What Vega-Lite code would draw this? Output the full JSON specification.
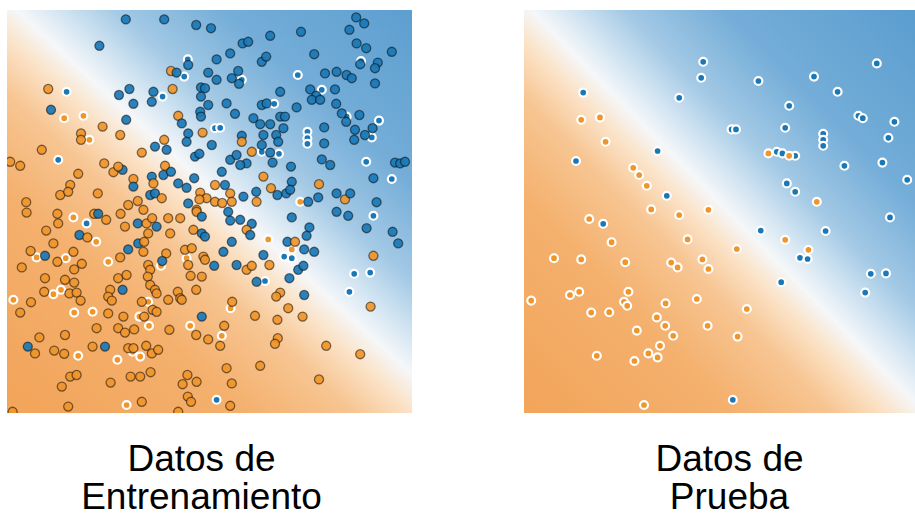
{
  "$schema": "https://vega.github.io/schema/vega-lite/v6.json",
  "padding": {"left": 7, "top": 10, "right": 0, "bottom": 0},
  "autosize": {"type": "pad"},
  "background": "white",
  "spacing": 112,
  "config": {
    "view": {"stroke": null},
    "title": {"font": "Liberation Sans", "fontSize": 37, "fontWeight": "normal", "color": "#000000", "lineHeight": 38, "anchor": "middle", "orient": "bottom", "offset": 29}
  },
  "datasets": {
    "superficie": [{"modelo": "clasificador"}],
    "entrenamiento": [
      {"x":29.7,"y":98.4,"clase":"azul","prueba":0},{"x":39.3,"y":98.4,"clase":"azul","prueba":0},{"x":47.3,"y":97.0,"clase":"azul","prueba":0},{"x":51.0,"y":96.2,"clase":"azul","prueba":0},
      {"x":23.1,"y":91.8,"clase":"azul","prueba":0},{"x":45.2,"y":88.4,"clase":"azul","prueba":1},{"x":45.3,"y":87.0,"clase":"azul","prueba":0},{"x":52.4,"y":88.4,"clase":"azul","prueba":0},
      {"x":41.0,"y":85.5,"clase":"naranja","prueba":0},{"x":42.4,"y":85.1,"clase":"azul","prueba":0},{"x":44.3,"y":84.1,"clase":"azul","prueba":1},{"x":50.3,"y":85.1,"clase":"azul","prueba":0},
      {"x":52.4,"y":83.3,"clase":"azul","prueba":0},{"x":10.3,"y":81.0,"clase":"naranja","prueba":0},{"x":14.9,"y":80.3,"clase":"azul","prueba":1},{"x":28.0,"y":79.5,"clase":"azul","prueba":0},
      {"x":30.6,"y":81.0,"clase":"azul","prueba":0},{"x":36.6,"y":80.3,"clase":"azul","prueba":0},{"x":41.4,"y":81.0,"clase":"naranja","prueba":0},{"x":38.9,"y":79.1,"clase":"azul","prueba":1},
      {"x":36.2,"y":77.8,"clase":"azul","prueba":0},{"x":31.6,"y":77.3,"clase":"azul","prueba":0},{"x":48.5,"y":81.4,"clase":"azul","prueba":0},{"x":49.5,"y":81.2,"clase":"azul","prueba":0},
      {"x":48.5,"y":79.1,"clase":"azul","prueba":0},{"x":50.3,"y":77.0,"clase":"azul","prueba":0},{"x":48.3,"y":75.3,"clase":"azul","prueba":0},{"x":48.5,"y":74.1,"clase":"azul","prueba":0},
      {"x":11.0,"y":75.8,"clase":"azul","prueba":0},{"x":14.3,"y":73.7,"clase":"naranja","prueba":1},{"x":19.1,"y":74.3,"clase":"naranja","prueba":1},{"x":29.8,"y":73.3,"clase":"azul","prueba":0},
      {"x":23.9,"y":71.6,"clase":"naranja","prueba":0},{"x":42.8,"y":74.3,"clase":"naranja","prueba":0},{"x":43.7,"y":72.4,"clase":"azul","prueba":0},{"x":18.5,"y":69.9,"clase":"naranja","prueba":0},
      {"x":18.5,"y":68.3,"clase":"naranja","prueba":0},{"x":20.6,"y":68.3,"clase":"naranja","prueba":1},{"x":28.3,"y":69.5,"clase":"naranja","prueba":0},{"x":45.3,"y":69.9,"clase":"azul","prueba":0},
      {"x":48.9,"y":70.1,"clase":"naranja","prueba":0},{"x":52.0,"y":71.2,"clase":"azul","prueba":1},{"x":8.7,"y":65.8,"clase":"naranja","prueba":0},{"x":37.0,"y":66.6,"clase":"azul","prueba":0},
      {"x":39.3,"y":68.3,"clase":"naranja","prueba":0},{"x":39.9,"y":65.8,"clase":"azul","prueba":0},{"x":33.7,"y":65.1,"clase":"naranja","prueba":0},{"x":44.9,"y":67.8,"clase":"azul","prueba":0},
      {"x":47.0,"y":64.1,"clase":"azul","prueba":0},{"x":48.1,"y":64.8,"clase":"azul","prueba":0},{"x":51.2,"y":67.0,"clase":"azul","prueba":0},{"x":12.8,"y":63.3,"clase":"azul","prueba":1},
      {"x":0.8,"y":62.8,"clase":"naranja","prueba":0},{"x":3.3,"y":61.8,"clase":"naranja","prueba":0},{"x":24.3,"y":62.4,"clase":"naranja","prueba":0},{"x":39.5,"y":61.8,"clase":"naranja","prueba":0},
      {"x":17.8,"y":59.8,"clase":"naranja","prueba":0},{"x":26.6,"y":60.2,"clase":"naranja","prueba":0},{"x":28.9,"y":60.8,"clase":"azul","prueba":0},{"x":27.8,"y":61.6,"clase":"naranja","prueba":0},
      {"x":36.2,"y":59.1,"clase":"azul","prueba":0},{"x":31.6,"y":58.5,"clase":"naranja","prueba":0},{"x":39.1,"y":59.5,"clase":"azul","prueba":0},{"x":41.0,"y":60.3,"clase":"azul","prueba":0},
      {"x":46.8,"y":58.7,"clase":"azul","prueba":0},{"x":15.8,"y":57.0,"clase":"naranja","prueba":0},{"x":13.3,"y":54.5,"clase":"naranja","prueba":0},{"x":15.3,"y":55.3,"clase":"naranja","prueba":0},
      {"x":22.7,"y":54.9,"clase":"naranja","prueba":0},{"x":31.6,"y":56.6,"clase":"azul","prueba":0},{"x":36.6,"y":57.4,"clase":"naranja","prueba":0},{"x":42.8,"y":57.4,"clase":"azul","prueba":0},
      {"x":44.9,"y":56.3,"clase":"azul","prueba":0},{"x":48.3,"y":55.1,"clase":"naranja","prueba":0},{"x":49.9,"y":53.7,"clase":"naranja","prueba":0},{"x":52.0,"y":52.8,"clase":"naranja","prueba":0},
      {"x":48.1,"y":53.4,"clase":"naranja","prueba":0},{"x":4.8,"y":52.7,"clase":"naranja","prueba":0},{"x":30.3,"y":52.0,"clase":"naranja","prueba":0},{"x":32.7,"y":53.0,"clase":"naranja","prueba":0},
      {"x":35.8,"y":54.5,"clase":"azul","prueba":0},{"x":37.0,"y":54.9,"clase":"azul","prueba":0},{"x":38.7,"y":53.7,"clase":"naranja","prueba":0},{"x":45.3,"y":52.4,"clase":"azul","prueba":0},
      {"x":47.4,"y":50.8,"clase":"naranja","prueba":0},{"x":34.1,"y":50.8,"clase":"naranja","prueba":0},
      {"x":87.3,"y":98.9,"clase":"azul","prueba":0},{"x":89.3,"y":97.4,"clase":"azul","prueba":0},{"x":85.6,"y":95.8,"clase":"azul","prueba":0},{"x":73.5,"y":95.3,"clase":"azul","prueba":0},
      {"x":65.8,"y":94.3,"clase":"azul","prueba":0},{"x":58.9,"y":92.4,"clase":"azul","prueba":0},{"x":60.3,"y":92.8,"clase":"azul","prueba":0},{"x":87.4,"y":92.4,"clase":"azul","prueba":0},
      {"x":89.8,"y":91.2,"clase":"azul","prueba":0},{"x":96.2,"y":90.3,"clase":"azul","prueba":0},{"x":76.8,"y":89.7,"clase":"azul","prueba":0},{"x":55.8,"y":89.9,"clase":"azul","prueba":0},
      {"x":63.7,"y":87.8,"clase":"azul","prueba":0},{"x":64.8,"y":89.1,"clase":"azul","prueba":0},{"x":88.5,"y":88.0,"clase":"azul","prueba":1},{"x":88.3,"y":87.2,"clase":"azul","prueba":0},
      {"x":92.7,"y":87.6,"clase":"azul","prueba":0},{"x":92.0,"y":86.2,"clase":"azul","prueba":0},{"x":56.2,"y":83.7,"clase":"azul","prueba":0},{"x":57.8,"y":85.5,"clase":"azul","prueba":0},
      {"x":58.7,"y":83.3,"clase":"azul","prueba":1},{"x":58.0,"y":82.3,"clase":"azul","prueba":0},{"x":72.7,"y":84.5,"clase":"azul","prueba":1},{"x":79.5,"y":84.9,"clase":"azul","prueba":0},
      {"x":82.4,"y":85.3,"clase":"azul","prueba":0},{"x":84.9,"y":84.5,"clase":"azul","prueba":0},{"x":86.2,"y":83.7,"clase":"azul","prueba":0},{"x":92.0,"y":82.4,"clase":"azul","prueba":0},
      {"x":68.3,"y":80.3,"clase":"azul","prueba":0},{"x":75.8,"y":80.9,"clase":"azul","prueba":0},{"x":78.7,"y":80.8,"clase":"azul","prueba":1},{"x":82.0,"y":80.9,"clase":"azul","prueba":0},
      {"x":77.3,"y":79.3,"clase":"azul","prueba":0},{"x":76.2,"y":78.3,"clase":"azul","prueba":0},{"x":78.3,"y":78.3,"clase":"azul","prueba":0},{"x":54.9,"y":77.4,"clase":"azul","prueba":0},
      {"x":63.7,"y":77.0,"clase":"azul","prueba":0},{"x":64.9,"y":77.4,"clase":"azul","prueba":0},{"x":66.8,"y":77.3,"clase":"azul","prueba":1},{"x":72.4,"y":76.4,"clase":"azul","prueba":0},
      {"x":82.3,"y":77.3,"clase":"azul","prueba":0},{"x":83.7,"y":74.9,"clase":"azul","prueba":0},{"x":84.9,"y":74.1,"clase":"azul","prueba":1},{"x":88.1,"y":74.5,"clase":"azul","prueba":0},
      {"x":93.0,"y":73.1,"clase":"azul","prueba":1},{"x":57.0,"y":74.8,"clase":"azul","prueba":0},{"x":61.6,"y":73.7,"clase":"azul","prueba":0},{"x":68.3,"y":74.1,"clase":"azul","prueba":0},
      {"x":69.5,"y":74.1,"clase":"azul","prueba":0},{"x":63.3,"y":72.2,"clase":"azul","prueba":0},{"x":65.8,"y":72.2,"clase":"azul","prueba":0},{"x":69.1,"y":71.2,"clase":"azul","prueba":0},
      {"x":84.8,"y":72.8,"clase":"azul","prueba":0},{"x":53.3,"y":71.3,"clase":"azul","prueba":1},{"x":79.3,"y":71.4,"clase":"azul","prueba":0},{"x":75.1,"y":70.3,"clase":"azul","prueba":1},
      {"x":75.1,"y":68.7,"clase":"azul","prueba":1},{"x":75.1,"y":67.3,"clase":"azul","prueba":1},{"x":87.0,"y":70.8,"clase":"azul","prueba":0},{"x":89.5,"y":69.5,"clase":"azul","prueba":0},
      {"x":91.4,"y":71.2,"clase":"azul","prueba":0},{"x":91.2,"y":68.9,"clase":"azul","prueba":1},{"x":86.8,"y":68.3,"clase":"azul","prueba":0},{"x":58.7,"y":69.3,"clase":"azul","prueba":0},
      {"x":64.1,"y":69.5,"clase":"azul","prueba":0},{"x":67.3,"y":69.5,"clase":"azul","prueba":0},{"x":58.7,"y":67.8,"clase":"naranja","prueba":0},{"x":63.7,"y":67.0,"clase":"azul","prueba":0},
      {"x":67.8,"y":67.8,"clase":"azul","prueba":0},{"x":79.3,"y":67.4,"clase":"azul","prueba":0},{"x":61.2,"y":65.3,"clase":"naranja","prueba":0},{"x":63.7,"y":65.3,"clase":"azul","prueba":1},
      {"x":65.8,"y":65.1,"clase":"azul","prueba":0},{"x":68.0,"y":64.8,"clase":"azul","prueba":1},{"x":55.8,"y":63.3,"clase":"azul","prueba":0},{"x":57.4,"y":64.5,"clase":"azul","prueba":0},
      {"x":59.9,"y":62.4,"clase":"azul","prueba":0},{"x":58.3,"y":62.0,"clase":"azul","prueba":0},{"x":66.4,"y":62.6,"clase":"azul","prueba":0},{"x":71.0,"y":61.6,"clase":"azul","prueba":0},
      {"x":78.7,"y":63.4,"clase":"azul","prueba":0},{"x":80.8,"y":62.0,"clase":"azul","prueba":0},{"x":89.8,"y":62.8,"clase":"azul","prueba":1},{"x":97.0,"y":62.6,"clase":"azul","prueba":0},
      {"x":98.3,"y":62.4,"clase":"azul","prueba":0},{"x":99.5,"y":62.8,"clase":"azul","prueba":0},{"x":53.7,"y":60.3,"clase":"azul","prueba":0},{"x":64.1,"y":59.1,"clase":"naranja","prueba":0},
      {"x":71.2,"y":57.8,"clase":"azul","prueba":0},{"x":78.0,"y":57.2,"clase":"naranja","prueba":0},{"x":91.6,"y":58.7,"clase":"azul","prueba":0},{"x":96.2,"y":58.5,"clase":"azul","prueba":1},
      {"x":52.0,"y":57.0,"clase":"naranja","prueba":0},{"x":54.5,"y":57.0,"clase":"azul","prueba":0},{"x":55.8,"y":54.9,"clase":"naranja","prueba":0},{"x":56.2,"y":52.8,"clase":"naranja","prueba":0},
      {"x":59.1,"y":54.1,"clase":"azul","prueba":0},{"x":62.3,"y":55.3,"clase":"azul","prueba":0},{"x":62.4,"y":52.8,"clase":"naranja","prueba":0},{"x":66.0,"y":56.2,"clase":"naranja","prueba":0},
      {"x":67.6,"y":54.5,"clase":"azul","prueba":0},{"x":69.8,"y":54.9,"clase":"azul","prueba":0},{"x":70.8,"y":55.8,"clase":"azul","prueba":0},{"x":73.3,"y":52.8,"clase":"naranja","prueba":1},
      {"x":75.3,"y":52.8,"clase":"azul","prueba":0},{"x":77.8,"y":53.9,"clase":"azul","prueba":0},{"x":82.4,"y":54.9,"clase":"azul","prueba":0},{"x":84.5,"y":53.4,"clase":"naranja","prueba":0},
      {"x":85.8,"y":54.9,"clase":"azul","prueba":0},{"x":92.4,"y":52.7,"clase":"azul","prueba":0},{"x":53.8,"y":52.5,"clase":"naranja","prueba":0},
      {"x":82.4,"y":50.3,"clase":"azul","prueba":0},{"x":85.3,"y":49.3,"clase":"azul","prueba":0},{"x":91.6,"y":49.3,"clase":"azul","prueba":1},{"x":89.9,"y":46.2,"clase":"azul","prueba":0},
      {"x":96.4,"y":45.3,"clase":"azul","prueba":0},{"x":97.8,"y":42.4,"clase":"azul","prueba":0},{"x":71.2,"y":48.9,"clase":"azul","prueba":0},{"x":75.6,"y":46.4,"clase":"azul","prueba":0},
      {"x":74.9,"y":44.3,"clase":"azul","prueba":0},{"x":55.3,"y":50.3,"clase":"azul","prueba":0},{"x":55.8,"y":48.1,"clase":"azul","prueba":0},{"x":58.3,"y":48.3,"clase":"azul","prueba":0},
      {"x":61.2,"y":47.3,"clase":"azul","prueba":0},{"x":59.9,"y":45.8,"clase":"naranja","prueba":0},{"x":60.8,"y":44.5,"clase":"azul","prueba":0},{"x":56.2,"y":42.8,"clase":"azul","prueba":0},
      {"x":54.1,"y":40.3,"clase":"azul","prueba":0},{"x":65.3,"y":43.4,"clase":"naranja","prueba":1},{"x":70.1,"y":42.8,"clase":"azul","prueba":0},{"x":72.0,"y":42.8,"clase":"naranja","prueba":0},
      {"x":74.3,"y":40.9,"clase":"azul","prueba":0},{"x":76.8,"y":40.3,"clase":"azul","prueba":0},{"x":71.2,"y":40.9,"clase":"naranja","prueba":1},{"x":69.3,"y":39.1,"clase":"azul","prueba":1},
      {"x":71.2,"y":38.7,"clase":"azul","prueba":1},{"x":64.1,"y":39.5,"clase":"azul","prueba":0},{"x":91.6,"y":39.3,"clase":"naranja","prueba":0},{"x":49.1,"y":39.1,"clase":"naranja","prueba":0},
      {"x":49.5,"y":38.3,"clase":"naranja","prueba":0},{"x":51.8,"y":36.8,"clase":"azul","prueba":0},{"x":57.4,"y":37.0,"clase":"azul","prueba":0},{"x":59.9,"y":35.8,"clase":"naranja","prueba":0},
      {"x":61.2,"y":36.8,"clase":"naranja","prueba":0},{"x":65.6,"y":37.0,"clase":"naranja","prueba":0},{"x":72.8,"y":35.8,"clase":"azul","prueba":0},{"x":74.1,"y":36.8,"clase":"azul","prueba":0},
      {"x":70.6,"y":33.7,"clase":"azul","prueba":0},{"x":62.4,"y":32.8,"clase":"azul","prueba":0},{"x":64.5,"y":33.0,"clase":"azul","prueba":1},{"x":86.8,"y":34.8,"clase":"azul","prueba":1},
      {"x":90.8,"y":35.1,"clase":"azul","prueba":1},{"x":85.6,"y":30.3,"clase":"azul","prueba":1},{"x":48.7,"y":34.1,"clase":"naranja","prueba":0},{"x":68.3,"y":30.1,"clase":"naranja","prueba":0},
      {"x":67.3,"y":29.1,"clase":"naranja","prueba":0},{"x":74.3,"y":29.5,"clase":"azul","prueba":0},{"x":90.9,"y":26.6,"clase":"naranja","prueba":0},{"x":56.3,"y":27.8,"clase":"naranja","prueba":0},
      {"x":55.9,"y":26.2,"clase":"naranja","prueba":1},{"x":62.0,"y":24.3,"clase":"naranja","prueba":0},{"x":67.6,"y":23.3,"clase":"naranja","prueba":0},{"x":70.3,"y":26.2,"clase":"naranja","prueba":0},
      {"x":73.9,"y":24.1,"clase":"naranja","prueba":0},{"x":48.7,"y":24.1,"clase":"azul","prueba":0},{"x":54.3,"y":21.8,"clase":"naranja","prueba":0},{"x":50.3,"y":18.4,"clase":"naranja","prueba":0},
      {"x":53.3,"y":16.8,"clase":"naranja","prueba":0},{"x":53.7,"y":19.3,"clase":"naranja","prueba":1},{"x":67.7,"y":18.7,"clase":"naranja","prueba":0},{"x":67.0,"y":17.3,"clase":"naranja","prueba":0},
      {"x":79.8,"y":16.8,"clase":"naranja","prueba":0},{"x":88.3,"y":14.7,"clase":"naranja","prueba":0},{"x":54.9,"y":11.2,"clase":"naranja","prueba":0},{"x":63.3,"y":11.8,"clase":"naranja","prueba":0},
      {"x":56.2,"y":7.4,"clase":"naranja","prueba":0},{"x":78.0,"y":8.4,"clase":"naranja","prueba":0},{"x":52.4,"y":3.3,"clase":"azul","prueba":1},{"x":55.8,"y":1.8,"clase":"naranja","prueba":0},
      {"x":4.9,"y":50.1,"clase":"naranja","prueba":0},{"x":12.6,"y":49.8,"clase":"naranja","prueba":0},{"x":16.6,"y":48.9,"clase":"naranja","prueba":1},{"x":19.9,"y":47.4,"clase":"azul","prueba":1},
      {"x":21.8,"y":49.8,"clase":"naranja","prueba":0},{"x":22.8,"y":49.8,"clase":"azul","prueba":0},{"x":24.8,"y":48.3,"clase":"naranja","prueba":0},{"x":12.8,"y":47.4,"clase":"naranja","prueba":0},
      {"x":28.4,"y":49.8,"clase":"naranja","prueba":0},{"x":32.7,"y":47.4,"clase":"azul","prueba":0},{"x":29.5,"y":46.6,"clase":"naranja","prueba":0},{"x":34.9,"y":47.4,"clase":"naranja","prueba":0},
      {"x":36.3,"y":48.7,"clase":"naranja","prueba":0},{"x":37.4,"y":46.6,"clase":"azul","prueba":0},{"x":40.3,"y":48.7,"clase":"naranja","prueba":0},{"x":43.3,"y":48.7,"clase":"naranja","prueba":0},
      {"x":47.4,"y":50.3,"clase":"naranja","prueba":0},{"x":48.7,"y":49.1,"clase":"azul","prueba":0},{"x":9.8,"y":45.6,"clase":"naranja","prueba":0},{"x":18.1,"y":44.5,"clase":"azul","prueba":0},
      {"x":20.1,"y":43.9,"clase":"naranja","prueba":0},{"x":22.3,"y":42.8,"clase":"naranja","prueba":1},{"x":11.6,"y":42.4,"clase":"naranja","prueba":0},{"x":35.3,"y":44.9,"clase":"naranja","prueba":0},
      {"x":40.8,"y":44.9,"clase":"naranja","prueba":0},{"x":46.6,"y":45.8,"clase":"naranja","prueba":0},{"x":48.7,"y":44.9,"clase":"azul","prueba":0},{"x":49.5,"y":44.1,"clase":"azul","prueba":0},
      {"x":32.8,"y":42.4,"clase":"azul","prueba":0},{"x":34.3,"y":42.8,"clase":"naranja","prueba":0},{"x":30.3,"y":40.9,"clase":"azul","prueba":0},{"x":34.1,"y":40.3,"clase":"naranja","prueba":0},
      {"x":39.8,"y":39.9,"clase":"naranja","prueba":0},{"x":38.8,"y":38.0,"clase":"azul","prueba":0},{"x":5.9,"y":40.5,"clase":"naranja","prueba":0},{"x":9.5,"y":39.3,"clase":"azul","prueba":0},
      {"x":7.4,"y":38.9,"clase":"naranja","prueba":1},{"x":16.6,"y":40.3,"clase":"naranja","prueba":0},{"x":12.6,"y":37.8,"clase":"naranja","prueba":0},{"x":14.7,"y":38.7,"clase":"naranja","prueba":1},
      {"x":18.7,"y":37.3,"clase":"naranja","prueba":0},{"x":25.3,"y":37.8,"clase":"naranja","prueba":1},{"x":28.3,"y":38.9,"clase":"naranja","prueba":0},{"x":35.3,"y":37.0,"clase":"naranja","prueba":0},
      {"x":35.8,"y":35.8,"clase":"naranja","prueba":0},{"x":38.5,"y":36.8,"clase":"naranja","prueba":1},{"x":44.5,"y":40.8,"clase":"naranja","prueba":0},{"x":46.2,"y":41.2,"clase":"naranja","prueba":0},
      {"x":44.9,"y":38.7,"clase":"naranja","prueba":1},{"x":45.3,"y":37.0,"clase":"naranja","prueba":0},{"x":3.7,"y":36.4,"clase":"naranja","prueba":0},{"x":16.8,"y":35.9,"clase":"naranja","prueba":0},
      {"x":9.5,"y":33.7,"clase":"naranja","prueba":0},{"x":14.5,"y":33.3,"clase":"naranja","prueba":0},{"x":16.8,"y":32.6,"clase":"naranja","prueba":0},{"x":27.8,"y":33.7,"clase":"naranja","prueba":0},
      {"x":29.9,"y":34.5,"clase":"naranja","prueba":0},{"x":35.2,"y":34.1,"clase":"naranja","prueba":0},{"x":45.9,"y":34.3,"clase":"naranja","prueba":0},{"x":9.3,"y":30.3,"clase":"naranja","prueba":0},
      {"x":11.6,"y":29.7,"clase":"naranja","prueba":1},{"x":13.5,"y":30.8,"clase":"naranja","prueba":1},{"x":15.6,"y":29.9,"clase":"naranja","prueba":0},{"x":17.4,"y":30.1,"clase":"naranja","prueba":0},
      {"x":18.4,"y":28.1,"clase":"naranja","prueba":0},{"x":25.8,"y":30.8,"clase":"naranja","prueba":0},{"x":25.3,"y":29.1,"clase":"naranja","prueba":0},{"x":26.2,"y":28.1,"clase":"naranja","prueba":0},
      {"x":28.9,"y":30.8,"clase":"azul","prueba":0},{"x":35.8,"y":32.0,"clase":"naranja","prueba":0},{"x":37.0,"y":30.8,"clase":"naranja","prueba":0},{"x":37.4,"y":29.9,"clase":"naranja","prueba":0},
      {"x":42.7,"y":30.3,"clase":"naranja","prueba":0},{"x":43.3,"y":28.7,"clase":"naranja","prueba":0},{"x":47.3,"y":30.8,"clase":"naranja","prueba":0},{"x":1.6,"y":28.3,"clase":"naranja","prueba":1},
      {"x":6.0,"y":27.7,"clase":"naranja","prueba":0},{"x":3.3,"y":25.1,"clase":"naranja","prueba":0},{"x":16.8,"y":25.1,"clase":"naranja","prueba":1},{"x":21.4,"y":25.3,"clase":"naranja","prueba":1},
      {"x":25.3,"y":24.9,"clase":"naranja","prueba":0},{"x":29.1,"y":24.1,"clase":"naranja","prueba":0},{"x":33.7,"y":27.8,"clase":"naranja","prueba":0},{"x":35.3,"y":27.8,"clase":"naranja","prueba":1},
      {"x":36.4,"y":25.8,"clase":"naranja","prueba":0},{"x":37.4,"y":25.3,"clase":"naranja","prueba":0},{"x":34.3,"y":24.1,"clase":"naranja","prueba":0},{"x":33.1,"y":24.1,"clase":"naranja","prueba":1},
      {"x":40.3,"y":28.3,"clase":"naranja","prueba":0},{"x":43.7,"y":28.3,"clase":"naranja","prueba":0},{"x":22.4,"y":21.2,"clase":"naranja","prueba":0},{"x":27.8,"y":21.2,"clase":"naranja","prueba":0},
      {"x":29.5,"y":20.1,"clase":"naranja","prueba":0},{"x":31.8,"y":20.9,"clase":"naranja","prueba":0},{"x":35.5,"y":21.8,"clase":"naranja","prueba":1},{"x":40.6,"y":20.8,"clase":"naranja","prueba":0},
      {"x":45.8,"y":21.8,"clase":"naranja","prueba":1},{"x":47.3,"y":19.5,"clase":"naranja","prueba":0},{"x":8.1,"y":18.9,"clase":"naranja","prueba":0},{"x":14.5,"y":19.5,"clase":"naranja","prueba":0},
      {"x":5.2,"y":16.6,"clase":"azul","prueba":0},{"x":7.0,"y":14.9,"clase":"naranja","prueba":0},{"x":11.8,"y":15.6,"clase":"naranja","prueba":0},{"x":14.3,"y":14.8,"clase":"naranja","prueba":0},
      {"x":21.4,"y":16.6,"clase":"naranja","prueba":0},{"x":24.5,"y":16.6,"clase":"azul","prueba":0},{"x":30.3,"y":16.2,"clase":"naranja","prueba":0},{"x":31.6,"y":16.2,"clase":"naranja","prueba":0},
      {"x":34.8,"y":16.8,"clase":"naranja","prueba":0},{"x":36.2,"y":14.9,"clase":"naranja","prueba":0},{"x":37.8,"y":15.8,"clase":"naranja","prueba":0},{"x":33.3,"y":14.1,"clase":"naranja","prueba":1},
      {"x":31.4,"y":15.3,"clase":"naranja","prueba":1},{"x":17.8,"y":14.3,"clase":"naranja","prueba":1},{"x":27.6,"y":13.3,"clase":"naranja","prueba":1},{"x":15.8,"y":9.1,"clase":"naranja","prueba":0},
      {"x":17.4,"y":9.5,"clase":"naranja","prueba":0},{"x":13.7,"y":6.6,"clase":"naranja","prueba":0},{"x":25.9,"y":7.6,"clase":"naranja","prueba":0},{"x":30.9,"y":9.1,"clase":"naranja","prueba":0},
      {"x":33.3,"y":9.1,"clase":"naranja","prueba":0},{"x":35.9,"y":10.2,"clase":"naranja","prueba":0},{"x":43.9,"y":7.2,"clase":"naranja","prueba":0},{"x":45.1,"y":9.5,"clase":"naranja","prueba":0},
      {"x":47.4,"y":7.8,"clase":"naranja","prueba":0},{"x":45.2,"y":4.1,"clase":"naranja","prueba":0},{"x":46.0,"y":2.8,"clase":"naranja","prueba":0},{"x":15.3,"y":1.6,"clase":"naranja","prueba":0},
      {"x":29.9,"y":2.0,"clase":"naranja","prueba":1},{"x":33.7,"y":2.8,"clase":"naranja","prueba":0},{"x":42.8,"y":0.3,"clase":"naranja","prueba":0},{"x":1.4,"y":0.3,"clase":"naranja","prueba":0}
    ],
    "prueba": [
      {"x":44.8,"y":87.8,"clase":"azul"},{"x":44.3,"y":83.8,"clase":"azul"},{"x":38.8,"y":78.8,"clase":"azul"},{"x":14.8,"y":80.1,"clase":"azul"},
      {"x":33.4,"y":65.5,"clase":"azul"},{"x":13.0,"y":63.0,"clase":"azul"},{"x":35.7,"y":54.3,"clase":"azul"},
      {"x":14.3,"y":73.3,"clase":"naranja"},{"x":19.0,"y":73.9,"clase":"naranja"},{"x":20.4,"y":67.8,"clase":"naranja"},{"x":27.3,"y":61.3,"clase":"naranja"},
      {"x":28.8,"y":59.5,"clase":"naranja"},{"x":30.7,"y":56.8,"clase":"naranja"},{"x":31.8,"y":50.9,"clase":"naranja"},{"x":46.1,"y":50.8,"clase":"naranja"},
      {"x":88.2,"y":87.4,"clase":"azul"},{"x":72.5,"y":84.1,"clase":"azul"},{"x":58.6,"y":83.0,"clase":"azul"},{"x":78.4,"y":80.3,"clase":"azul"},
      {"x":66.3,"y":76.8,"clase":"azul"},{"x":83.6,"y":74.3,"clase":"azul"},{"x":84.7,"y":73.7,"clase":"azul"},{"x":92.6,"y":72.8,"clase":"azul"},
      {"x":51.9,"y":70.9,"clase":"azul"},{"x":53.0,"y":70.9,"clase":"azul"},{"x":65.3,"y":71.3,"clase":"azul"},{"x":74.8,"y":69.8,"clase":"azul"},
      {"x":74.8,"y":68.3,"clase":"azul"},{"x":74.8,"y":66.8,"clase":"azul"},{"x":91.1,"y":68.8,"clase":"azul"},{"x":63.2,"y":65.3,"clase":"azul"},
      {"x":64.6,"y":64.9,"clase":"azul"},{"x":67.8,"y":64.3,"clase":"azul"},{"x":80.1,"y":61.8,"clase":"azul"},{"x":89.6,"y":62.6,"clase":"azul"},
      {"x":95.8,"y":58.3,"clase":"azul"},{"x":65.7,"y":57.4,"clase":"azul"},{"x":67.8,"y":55.3,"clase":"azul"},
      {"x":61.1,"y":64.9,"clase":"naranja"},{"x":66.3,"y":64.3,"clase":"naranja"},{"x":73.2,"y":52.8,"clase":"naranja"},
      {"x":16.3,"y":48.5,"clase":"naranja"},{"x":19.8,"y":47.3,"clase":"azul"},{"x":38.8,"y":49.5,"clase":"naranja"},{"x":21.9,"y":42.7,"clase":"naranja"},
      {"x":40.9,"y":43.4,"clase":"naranja"},{"x":7.5,"y":38.7,"clase":"naranja"},{"x":14.3,"y":38.4,"clase":"naranja"},{"x":25.3,"y":37.7,"clase":"naranja"},
      {"x":36.8,"y":37.6,"clase":"naranja"},{"x":38.4,"y":36.4,"clase":"naranja"},{"x":44.6,"y":38.4,"clase":"naranja"},{"x":46.1,"y":36.0,"clase":"naranja"},
      {"x":1.8,"y":28.1,"clase":"naranja"},{"x":11.5,"y":29.5,"clase":"naranja"},{"x":13.8,"y":30.3,"clase":"naranja"},{"x":26.1,"y":30.3,"clase":"naranja"},
      {"x":25.0,"y":27.8,"clase":"naranja"},{"x":25.8,"y":26.8,"clase":"naranja"},{"x":35.4,"y":27.4,"clase":"naranja"},{"x":43.2,"y":28.5,"clase":"naranja"},
      {"x":16.8,"y":25.1,"clase":"naranja"},{"x":21.3,"y":25.2,"clase":"naranja"},{"x":33.2,"y":23.9,"clase":"naranja"},{"x":35.3,"y":21.8,"clase":"naranja"},
      {"x":45.9,"y":21.8,"clase":"naranja"},{"x":28.2,"y":20.6,"clase":"naranja"},{"x":37.3,"y":19.3,"clase":"naranja"},{"x":34.0,"y":16.8,"clase":"naranja"},
      {"x":31.1,"y":14.9,"clase":"naranja"},{"x":33.4,"y":13.9,"clase":"naranja"},{"x":18.2,"y":14.3,"clase":"naranja"},{"x":27.6,"y":13.0,"clase":"naranja"},
      {"x":30.0,"y":2.0,"clase":"naranja"},
      {"x":91.5,"y":48.9,"clase":"azul"},{"x":59.2,"y":45.6,"clase":"azul"},{"x":75.4,"y":45.5,"clase":"azul"},{"x":53.2,"y":41.0,"clase":"naranja"},
      {"x":65.3,"y":43.3,"clase":"naranja"},{"x":71.1,"y":40.8,"clase":"naranja"},{"x":69.0,"y":38.8,"clase":"azul"},{"x":70.9,"y":38.5,"clase":"azul"},
      {"x":64.3,"y":32.7,"clase":"azul"},{"x":86.7,"y":34.8,"clase":"azul"},{"x":90.5,"y":34.9,"clase":"azul"},{"x":85.3,"y":30.1,"clase":"azul"},
      {"x":55.7,"y":26.0,"clase":"naranja"},{"x":53.4,"y":19.1,"clase":"naranja"},{"x":52.2,"y":3.3,"clase":"azul"}
    ]
  },
  "hconcat": [
    {
      "width": 405,
      "height": 403,
      "title": {"text": ["Datos de", "Entrenamiento"], "dx": -8},
      "layer": [
        {
          "data": {"name": "superficie"},
          "mark": {
            "type": "rect",
            "fill": {
              "gradient": "linear", "x1": 0.035, "y1": 0.964, "x2": 0.985, "y2": -0.064,
              "stops": [
                {"offset": 0, "color": "#f2a55b"}, {"offset": 0.25, "color": "#f4b06d"},
                {"offset": 0.38, "color": "#f7c592"}, {"offset": 0.45, "color": "#fbe2c6"},
                {"offset": 0.5, "color": "#f5f7f9"}, {"offset": 0.55, "color": "#d3e5f2"},
                {"offset": 0.62, "color": "#a3c9e5"}, {"offset": 0.75, "color": "#74add8"},
                {"offset": 1, "color": "#5a9dcf"}
              ]
            }
          },
          "encoding": {
            "x": {"datum": 0, "type": "quantitative", "scale": {"domain": [0, 101.25], "nice": false, "zero": false}, "axis": null},
            "x2": {"datum": 101.25},
            "y": {"datum": 0, "type": "quantitative", "scale": {"domain": [0, 100.75], "nice": false, "zero": false}, "axis": null},
            "y2": {"datum": 100.75}
          }
        },
        {
          "data": {"name": "entrenamiento"},
          "transform": [{"filter": "datum.prueba == 1"}],
          "mark": {"type": "circle", "size": 62, "stroke": "#ffffff", "strokeWidth": 2.2, "opacity": 1, "clip": true},
          "encoding": {
            "x": {"field": "x", "type": "quantitative", "axis": null},
            "y": {"field": "y", "type": "quantitative", "axis": null},
            "fill": {"field": "clase", "type": "nominal", "scale": {"domain": ["naranja", "azul"], "range": ["#f0952a", "#1a78b6"]}, "legend": null}
          }
        },
        {
          "data": {"name": "entrenamiento"},
          "transform": [{"filter": "datum.prueba == 0"}],
          "mark": {"type": "circle", "size": 82, "stroke": "#000000", "strokeOpacity": 0.5, "strokeWidth": 1.3, "fillOpacity": 0.92, "clip": true},
          "encoding": {
            "x": {"field": "x", "type": "quantitative", "axis": null},
            "y": {"field": "y", "type": "quantitative", "axis": null},
            "fill": {"field": "clase", "type": "nominal", "scale": {"domain": ["naranja", "azul"], "range": ["#f0952a", "#1a78b6"]}, "legend": null}
          }
        }
      ]
    },
    {
      "width": 391,
      "height": 403,
      "title": {"text": ["Datos de", "Prueba"], "dx": 10},
      "layer": [
        {
          "data": {"name": "superficie"},
          "mark": {
            "type": "rect",
            "fill": {
              "gradient": "linear", "x1": 0.0, "y1": 0.966, "x2": 0.984, "y2": -0.026,
              "stops": [
                {"offset": 0, "color": "#f2a55b"}, {"offset": 0.25, "color": "#f4b06d"},
                {"offset": 0.38, "color": "#f7c592"}, {"offset": 0.45, "color": "#fbe2c6"},
                {"offset": 0.5, "color": "#f5f7f9"}, {"offset": 0.55, "color": "#d3e5f2"},
                {"offset": 0.62, "color": "#a3c9e5"}, {"offset": 0.75, "color": "#74add8"},
                {"offset": 1, "color": "#5a9dcf"}
              ]
            }
          },
          "encoding": {
            "x": {"datum": 0, "type": "quantitative", "scale": {"domain": [0, 97.75], "nice": false, "zero": false}, "axis": null},
            "x2": {"datum": 97.75},
            "y": {"datum": 0, "type": "quantitative", "scale": {"domain": [0, 100.75], "nice": false, "zero": false}, "axis": null},
            "y2": {"datum": 100.75}
          }
        },
        {
          "data": {"name": "prueba"},
          "mark": {"type": "circle", "size": 62, "stroke": "#ffffff", "strokeWidth": 2.2, "opacity": 1, "clip": true},
          "encoding": {
            "x": {"field": "x", "type": "quantitative", "axis": null},
            "y": {"field": "y", "type": "quantitative", "axis": null},
            "fill": {"field": "clase", "type": "nominal", "scale": {"domain": ["naranja", "azul"], "range": ["#f0952a", "#1a78b6"]}, "legend": null}
          }
        }
      ]
    }
  ]
}
